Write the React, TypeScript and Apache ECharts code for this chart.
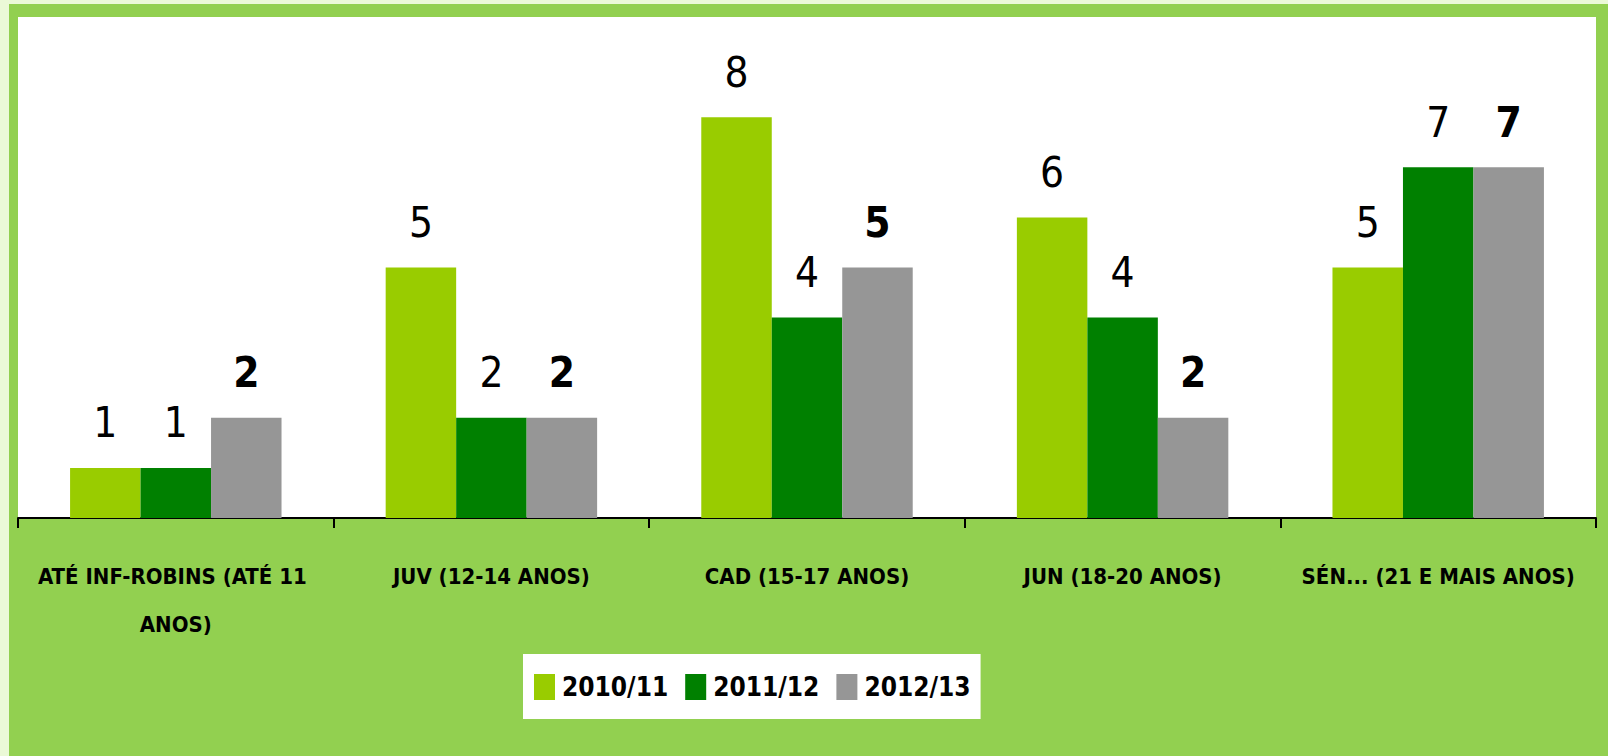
import React, { useEffect, useRef } from "react";
import * as echarts from "echarts";

const categories = [
  "ATÉ INF-ROBINS (ATÉ 11 ANOS)",
  "JUV (12-14 ANOS)",
  "CAD (15-17 ANOS)",
  "JUN (18-20 ANOS)",
  "SÉN... (21 E MAIS ANOS)",
];
const seriesNames = ["2010/11", "2011/12", "2012/13"];
const values2010 = [1, 5, 8, 6, 5];
const values2011 = [1, 2, 4, 4, 7];
const values2012 = [2, 2, 5, 2, 7];
const seriesValues = [values2010, values2011, values2012];
const seriesColors = ["#99CC00", "#008000", "#969696"];
const seriesLabelWeights = ["normal", "normal", "bold"];
const yMin = 0;
const yMax = 10;
const yInterval = 2;

const FONT = "'Liberation Sans Narrow', 'DejaVu Sans Condensed', 'Noto Sans', sans-serif";

export default function App() {
  const ref = useRef<HTMLDivElement>(null);

  useEffect(() => {
    document.body.style.margin = "0";
    if (!ref.current) return;
    const chart = echarts.init(ref.current, undefined, { renderer: "svg" });
    chart.setOption({
      animation: false,
      backgroundColor: "transparent",
      textStyle: { fontFamily: FONT },
      grid: {
        left: 9,
        right: 12,
        top: 13,
        bottom: 238,
        show: true,
        backgroundColor: "#FFFFFF",
        borderWidth: 0,
        containLabel: false,
      },
      legend: {
        left: 514,
        top: 650,
        backgroundColor: "#FFFFFF",
        padding: [18, 10, 17, 11],
        itemWidth: 21,
        itemHeight: 26,
        itemGap: 17,
        icon: "rect",
        data: seriesNames,
        textStyle: {
          fontFamily: FONT,
          fontSize: 26,
          fontWeight: "bold",
          color: "#000",
          lineHeight: 30,
          padding: [0, 0, 0, 2],
        },
      },
      xAxis: {
        type: "category",
        data: categories,
        axisLine: { lineStyle: { color: "#000", width: 2 } },
        axisTick: { show: true, length: 10, lineStyle: { color: "#000", width: 2 } },
        axisLabel: {
          fontFamily: FONT,
          fontSize: 22,
          fontWeight: "bold",
          color: "#000",
          lineHeight: 48,
          margin: 34,
          width: 300,
          overflow: "break",
          interval: 0,
        },
      },
      yAxis: {
        type: "value",
        min: yMin,
        max: yMax,
        interval: yInterval,
        axisLabel: { show: false },
        axisLine: { show: false },
        axisTick: { show: false },
        splitLine: {
          show: true,
          lineStyle: {
            color: "#111",
            width: 2,
            shadowColor: "#999",
            shadowOffsetY: 1.5,
            shadowBlur: 0,
          },
        },
      },
      series: seriesNames.map((name, i) => ({
        name,
        type: "bar",
        data: seriesValues[i],
        barGap: "0%",
        barCategoryGap: "33%",
        itemStyle: { color: seriesColors[i] },
        label: {
          show: true,
          position: "top",
          distance: 24,
          fontFamily: FONT,
          fontSize: 42,
          fontWeight: seriesLabelWeights[i],
          color: "#000",
        },
      })),
    });
    return () => chart.dispose();
  }, []);

  return (
    <div
      style={{
        position: "fixed",
        left: 0,
        top: 0,
        width: 1608,
        height: 756,
        background: "#EBF9D7",
      }}
    >
      <div
        style={{
          position: "absolute",
          left: 9,
          top: 4,
          width: 1599,
          height: 752,
          background: "#92D050",
        }}
      >
        <div ref={ref} style={{ width: 1599, height: 752 }} />
      </div>
    </div>
  );
}
